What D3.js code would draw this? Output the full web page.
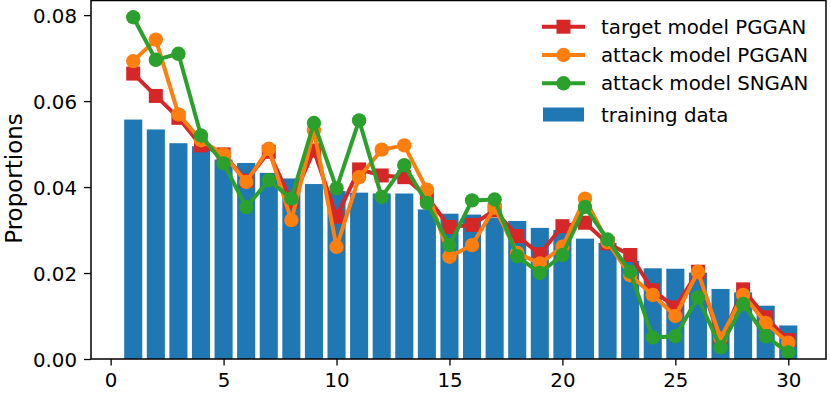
<!DOCTYPE html>
<html><head><meta charset="utf-8">
<script src="https://cdn.jsdelivr.net/npm/d3@7"></script>
<style>body{margin:0;background:#fff}svg{display:block}text{font-family:"DejaVu Sans",sans-serif;fill:#000}</style>
</head><body><svg id="c" width="831" height="393"></svg>
<script>
const xs = d3.range(1, 31);
const training = [0.0557,0.0534,0.0502,0.0495,0.0464,0.0456,0.0433,0.0420,0.0407,0.0391,0.0387,0.0385,0.0385,0.0348,0.0338,0.0336,0.0329,0.0321,0.0305,0.0300,0.0280,0.0270,0.0228,0.0211,0.0210,0.0201,0.0163,0.0155,0.0124,0.0078];
const targetPGGAN = [0.0664,0.0612,0.0561,0.0497,0.0476,0.0415,0.0482,0.0366,0.0485,0.0331,0.0441,0.0427,0.0423,0.0378,0.0307,0.0312,0.0346,0.0286,0.0244,0.0309,0.0317,0.0269,0.0242,0.0160,0.0120,0.0203,0.0040,0.0162,0.0097,0.0044];
const attackPGGAN = [0.0693,0.0743,0.0569,0.0509,0.0476,0.0412,0.0489,0.0323,0.0532,0.0261,0.0423,0.0487,0.0497,0.0394,0.0238,0.0265,0.0352,0.0247,0.0222,0.0261,0.0373,0.0272,0.0195,0.0149,0.0100,0.0203,0.0048,0.0149,0.0084,0.0038];
const attackSNGAN = [0.0795,0.0696,0.0710,0.0520,0.0455,0.0353,0.0416,0.0373,0.0549,0.0397,0.0555,0.0377,0.0451,0.0363,0.0265,0.0369,0.0371,0.0239,0.0200,0.0242,0.0354,0.0278,0.0203,0.0050,0.0053,0.0143,0.0027,0.0128,0.0053,0.0015];
const xTicks = [0,5,10,15,20,25,30];
const yTicks = [0,0.02,0.04,0.06,0.08];
const seriesNames = ["target model PGGAN","attack model PGGAN","attack model SNGAN","training data"];
const colors = ["#d62728","#ff7f0e","#2ca02c","#1f77b4"];

const svg = d3.select("#c");
const L = 91, R = 826, T = 0.5, B = 359;
const x = d3.scaleLinear().domain([-0.87, 31.67]).range([L, R]);
const y = d3.scaleLinear().domain([0, 0.0834]).range([B, T]);
const bw = x(0.8) - x(0);

svg.append("g").selectAll("rect").data(training).join("rect")
  .attr("x", (d,i) => x(xs[i]) - bw/2).attr("width", bw)
  .attr("y", d => y(d)).attr("height", d => y(0) - y(d))
  .attr("fill", colors[3]);

const line = d3.line().x((d,i) => x(xs[i])).y(d => y(d));
const lineSeries = [targetPGGAN, attackPGGAN, attackSNGAN];
lineSeries.forEach((s, k) => {
  const g = svg.append("g");
  g.append("path").datum(s).attr("d", line).attr("fill","none")
    .attr("stroke", colors[k]).attr("stroke-width", 4).attr("stroke-linejoin","round");
  if (k === 0) {
    g.selectAll("rect").data(s).join("rect")
      .attr("x", (d,i) => x(xs[i]) - 7).attr("y", d => y(d) - 7)
      .attr("width", 14).attr("height", 14).attr("fill", colors[k]);
  } else {
    g.selectAll("circle").data(s).join("circle")
      .attr("cx", (d,i) => x(xs[i])).attr("cy", d => y(d)).attr("r", 7.2).attr("fill", colors[k]);
  }
});

// axes
const xa = svg.append("g").attr("transform", `translate(0,${B})`)
  .call(d3.axisBottom(x).tickValues(xTicks).tickFormat(d3.format("d")).tickSize(6.5).tickPadding(6));
const ya = svg.append("g").attr("transform", `translate(${L},0)`)
  .call(d3.axisLeft(y).tickValues(yTicks).tickFormat(d3.format(".2f")).tickSize(7).tickPadding(7));
[xa, ya].forEach(a => {
  a.select(".domain").remove();
  a.selectAll("line").attr("stroke","#000").attr("stroke-width",1.3);
  a.selectAll("text").style("font-size","19.8px").attr("fill","#000");
});
ya.selectAll("text").attr("dy","0.36em");
xa.selectAll("text").attr("dy","0.76em");

svg.append("rect").attr("x", L).attr("y", T).attr("width", R - L).attr("height", B - T)
  .attr("fill","none").attr("stroke","#000").attr("stroke-width",1.5);

svg.append("text").attr("transform", `translate(21.5,178.5) rotate(-90)`)
  .attr("text-anchor","middle").style("font-size","23px").text("Proportions");

// legend
const lg = svg.append("g");
const rowsY = [26.7, 55, 83.3, 115];
seriesNames.forEach((n, k) => {
  const yy = rowsY[k];
  if (k < 3) {
    lg.append("line").attr("x1",542).attr("x2",585).attr("y1",yy).attr("y2",yy)
      .attr("stroke",colors[k]).attr("stroke-width",4);
    if (k === 0) lg.append("rect").attr("x",563.5-7).attr("y",yy-7).attr("width",14).attr("height",14).attr("fill",colors[k]);
    else lg.append("circle").attr("cx",563.5).attr("cy",yy).attr("r",7.2).attr("fill",colors[k]);
  } else {
    lg.append("rect").attr("x",543).attr("y",yy-7.5).attr("width",41).attr("height",14).attr("fill",colors[3]);
  }
  lg.append("text").attr("x",601).attr("y",yy).attr("dy","0.36em").style("font-size","19.8px").text(n);
});
</script></body></html>
